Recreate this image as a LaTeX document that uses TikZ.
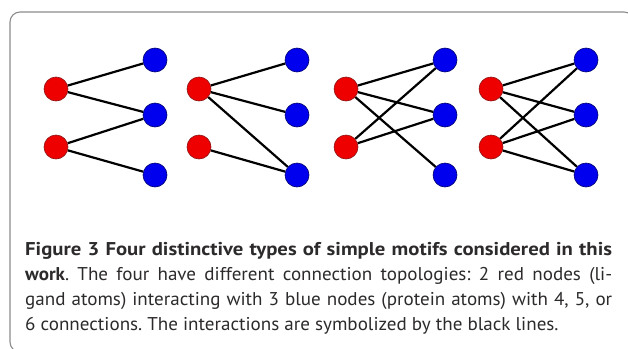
\documentclass[tikz,border=0pt]{standalone}
\usepackage{fontspec}
\usepackage{graphicx}
\setmainfont{PT Sans}
\usetikzlibrary{backgrounds}
\definecolor{rednode}{RGB}{238,0,0}
\definecolor{rededge}{RGB}{140,20,20}
\definecolor{bluenode}{RGB}{0,0,238}
\definecolor{blueedge}{RGB}{0,0,110}
\definecolor{framegray}{RGB}{140,140,140}
\definecolor{textgray}{RGB}{45,42,43}
\frenchspacing
\begin{document}
\begin{tikzpicture}[x=1pt,y=-1pt,
  rnode/.style={circle, fill=rednode, draw=rededge, line width=0.6pt, minimum size=24pt, inner sep=0pt},
  bnode/.style={circle, fill=bluenode, draw=blueedge, line width=0.6pt, minimum size=24pt, inner sep=0pt},
  link/.style={line width=2.2pt, black},
  capline/.style={anchor=base west, inner sep=0pt, text=textgray, font=\fontsize{18.5}{25}\selectfont}]
\useasboundingbox (0,0) rectangle (628,348);
\begin{scope}
  \clip (0,0) rectangle (628,348);
  \draw[framegray, line width=1.1pt, rounded corners=10pt] (10,12) rectangle (634,352);
\end{scope}
% nodes
\foreach \m/\rx/\bx in {1/56/155, 2/199/297, 3/346/445, 4/491/586}{
  \node[rnode] (r\m a) at (\rx,89) {};
  \node[rnode] (r\m b) at (\rx,147) {};
  \node[bnode] (b\m a) at (\bx,60) {};
  \node[bnode] (b\m b) at (\bx,115) {};
  \node[bnode] (b\m c) at (\bx,175) {};
}
\begin{scope}[on background layer]
  % motif 1
  \draw[link] (r1a) -- (b1a); \draw[link] (r1a) -- (b1b);
  \draw[link] (r1b) -- (b1b); \draw[link] (r1b) -- (b1c);
  % motif 2
  \draw[link] (r2a) -- (b2a); \draw[link] (r2a) -- (b2b);
  \draw[link] (r2a) -- (b2c); \draw[link] (r2b) -- (b2c);
  % motif 3
  \draw[link] (r3a) -- (b3a); \draw[link] (r3a) -- (b3b);
  \draw[link] (r3a) -- (b3c); \draw[link] (r3b) -- (b3a);
  \draw[link] (r3b) -- (b3b);
  % motif 4
  \draw[link] (r4a) -- (b4a); \draw[link] (r4a) -- (b4b);
  \draw[link] (r4a) -- (b4c); \draw[link] (r4b) -- (b4a);
  \draw[link] (r4b) -- (b4b); \draw[link] (r4b) -- (b4c);
\end{scope}
% caption
\node[capline] (cap1) at (25,255) {\scalebox{1.12}[1]{\makebox[524pt][s]{\bfseries Figure 3 Four distinctive types of simple motifs considered in this}}};
\node[capline] (cap2) at (25,280) {\scalebox{1.03}[1]{\makebox[569.9pt][s]{{\bfseries work}. The four have different connection topologies: 2 red nodes (li-}}};
\node[capline] (cap3) at (25,305) {\scalebox{1.03}[1]{\makebox[569.9pt][s]{gand atoms) interacting with 3 blue nodes (protein atoms) with 4, 5, or}}};
\node[capline] (cap4) at (25,330) {\scalebox{1.03}[1]{6 connections. The interactions are symbolized by the black lines.}};
\end{tikzpicture}
\end{document}
